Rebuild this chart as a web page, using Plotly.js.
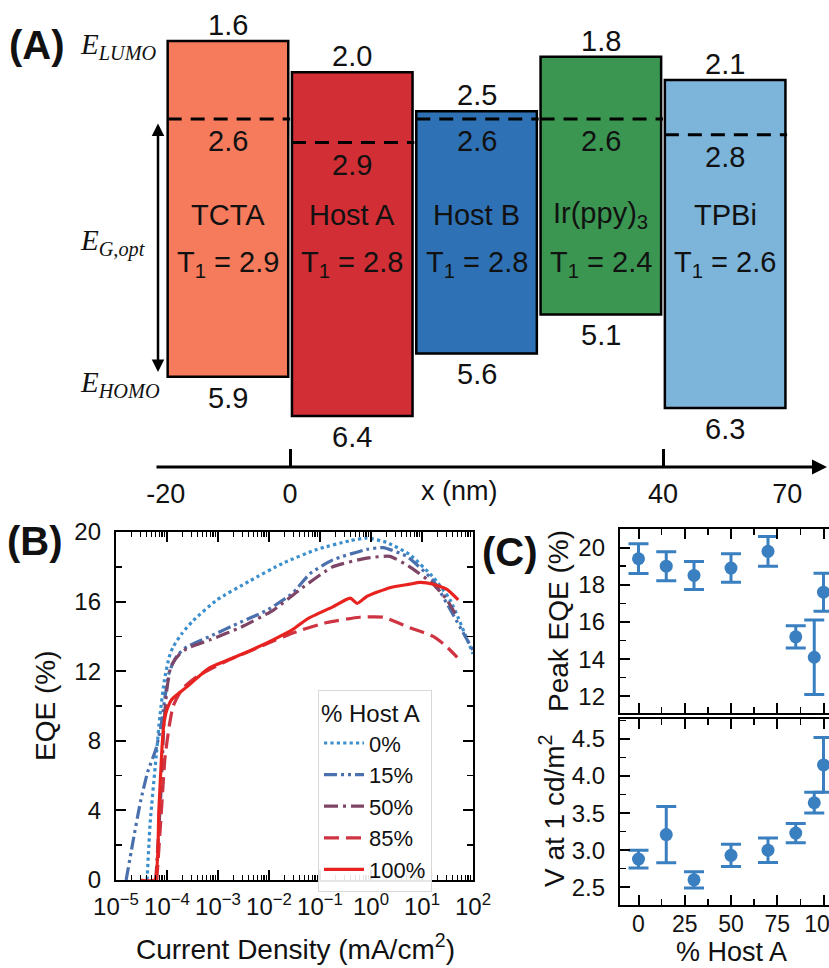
<!DOCTYPE html>
<html>
<head>
<meta charset="utf-8">
<script src="https://cdn.plot.ly/plotly-3.0.1.min.js"></script>
<style>html,body{margin:0;padding:0;overflow:hidden;background:#fff;}#plot{width:900px;height:968px;}</style>
</head>
<body>
<div id="plot"></div>
<script>
// ---------- Panel A: energy levels ----------
const layers = ['TCTA', 'Host A', 'Host B', 'Ir(ppy)<sub>3</sub>', 'TPBi'];
const lumo = [1.6, 2.0, 2.5, 1.8, 2.1];
const homo = [5.9, 6.4, 5.6, 5.1, 6.3];
const tripletLevel = [2.6, 2.9, 2.6, 2.6, 2.8];
const tripletT1 = [2.9, 2.8, 2.8, 2.4, 2.6];
const layerColors = ['#f67b5c', '#d22e35', '#2e72b5', '#3b9651', '#7cb4da'];
const posTickLabels = ['-20', '0', '40', '70'];

// ---------- Panel B: EQE vs current density ----------
const seriesNames = ['0%', '15%', '50%', '85%', '100%'];
const J0 = [4.07e-5, 4.68e-5, 6.31e-5, 7.24e-5, 8.91e-5, 1.10e-4, 1.32e-4, 2.0e-4, 3.24e-4, 9.55e-4, 4.27e-3, 1.86e-2, 8.71e-2, 0.389, 0.832, 2.04, 5.75, 16.6, 35.5, 100];
const EQE0 = [0, 3.3, 7.5, 9.4, 11.5, 12.8, 13.4, 14.2, 14.9, 16.1, 17.2, 18.2, 19.0, 19.5, 19.65, 19.4, 18.7, 17.4, 16.1, 13.0];
const J15 = [1.58e-5, 2.09e-5, 3.02e-5, 4.17e-5, 6.03e-5, 7.59e-5, 9.12e-5, 1.12e-4, 1.585e-4, 2.45e-4, 6.92e-4, 2.69e-3, 9.12e-3, 2.95e-2, 6.31e-2, 0.178, 0.832, 1.74, 5.01, 16.6, 39.8, 100];
const EQE15 = [0, 2.0, 4.5, 6.2, 7.5, 8.8, 10.5, 12.0, 12.9, 13.4, 14.0, 14.8, 15.5, 16.5, 17.6, 18.4, 19.0, 19.1, 18.6, 17.2, 15.3, 13.2];
const J50 = [6.03e-5, 7.59e-5, 8.71e-5, 1.0e-4, 1.20e-4, 1.78e-4, 2.45e-4, 6.92e-4, 2.69e-3, 1.20e-2, 4.07e-2, 0.178, 0.832, 2.34, 5.75, 16.6, 30.9, 49.0];
const EQE50 = [0, 5, 9, 11, 12.3, 13.0, 13.3, 13.8, 14.5, 15.5, 16.7, 18.0, 18.5, 18.6, 18.0, 17.0, 16.1, 15.1];
const J85 = [6.31e-5, 7.59e-5, 9.12e-5, 1.10e-4, 1.32e-4, 2.0e-4, 3.89e-4, 1.51e-3, 6.61e-3, 2.95e-2, 0.138, 0.603, 1.74, 5.75, 16.6, 28.2, 49.0];
const EQE85 = [0, 3.5, 7.0, 8.8, 10.0, 11.0, 11.7, 12.6, 13.4, 14.2, 14.8, 15.1, 15.1, 14.5, 14.0, 13.5, 12.8];
const J100 = [2.95e-5, 5.75e-5, 6.92e-5, 7.94e-5, 8.71e-5, 1.0e-4, 1.26e-4, 2.45e-4, 6.92e-4, 3.09e-3, 1.20e-2, 2.95e-2, 5.62e-2, 0.178, 0.389, 0.537, 0.832, 2.34, 5.75, 9.12, 16.6, 30.9, 51.3];
const EQE100 = [0, 0, 4, 7.5, 9.0, 9.8, 10.4, 11.1, 12.2, 13.0, 13.8, 14.4, 15.0, 15.7, 16.2, 15.9, 16.3, 16.8, 17.0, 17.1, 17.0, 16.7, 16.1];
const seriesColors = ['#3b8fcc', '#4a70ad', '#7e4566', '#cf3443', '#e8231f'];
const currentTickVals = [1e-5, 1e-4, 1e-3, 1e-2, 1e-1, 1e0, 1e1, 1e2];
const currentTickText = ['10<sup>\u22125</sup>', '10<sup>\u22124</sup>', '10<sup>\u22123</sup>', '10<sup>\u22122</sup>', '10<sup>\u22121</sup>', '10<sup>0</sup>', '10<sup>1</sup>', '10<sup>2</sup>'];

// ---------- Panel C: device statistics ----------
const hostA = [0, 15, 30, 50, 70, 85, 95, 100];
const peakEQE = [19.4, 19.0, 18.5, 18.9, 19.8, 15.2, 14.1, 17.6];
const peakEQEErr = [0.8, 0.78, 0.75, 0.77, 0.8, 0.6, 2.0, 1.02];
const voltage = [2.88, 3.21, 2.60, 2.93, 3.00, 3.23, 3.64, 4.15];
const voltageErr = [0.12, 0.38, 0.11, 0.15, 0.165, 0.13, 0.14, 0.37];

const W = 900, H = 968;
const px = v => v / W;
const py = v => 1 - v / H;
const FONT = 'Liberation Sans, Arial, sans-serif';
const SERIF = 'Liberation Serif, Times New Roman, serif';
const TXT = '#111';

const traces = [];

// Panel A bars
traces.push({
  type: 'bar', xaxis: 'x4', yaxis: 'y4',
  x: layers.map((_, i) => i),
  base: lumo,
  y: homo.map((h, i) => h - lumo[i]),
  width: 0.97,
  marker: {color: layerColors, line: {color: '#000', width: 2.5}},
  showlegend: false, hoverinfo: 'skip'
});
// dashed levels
const dx = [], dy = [];
tripletLevel.forEach((v, i) => { dx.push(i - 0.485, i + 0.5, null); dy.push(v, v, null); });
traces.push({
  type: 'scatter', mode: 'lines', xaxis: 'x4', yaxis: 'y4',
  x: dx, y: dy, line: {color: '#000', width: 3, dash: '14px,9px'},
  showlegend: false, hoverinfo: 'skip', connectgaps: false
});

// Panel B curves
const Js = [J0, J15, J50, J85, J100];
const Es = [EQE0, EQE15, EQE50, EQE85, EQE100];
const dashes = ['dot', '13px,4px,3px,4px,3px,4px', '14px,5px,3px,5px', '15px,7px', 'solid'];
seriesNames.forEach((n, i) => {
  traces.push({
    type: 'scatter', mode: 'lines', xaxis: 'x', yaxis: 'y',
    x: Js[i], y: Es[i], name: n,
    line: {color: seriesColors[i], width: 3.2, dash: dashes[i], shape: 'spline', smoothing: 0.5}
  });
});

// Panel C
const cBlue = '#3a7fbf';
traces.push({
  type: 'scatter', mode: 'markers', xaxis: 'x2', yaxis: 'y2',
  x: hostA, y: peakEQE,
  error_y: {type: 'data', array: peakEQEErr, visible: true, color: cBlue, thickness: 3, width: 10},
  marker: {color: cBlue, size: 13}, showlegend: false
});
traces.push({
  type: 'scatter', mode: 'markers', xaxis: 'x3', yaxis: 'y3',
  x: hostA, y: voltage,
  error_y: {type: 'data', array: voltageErr, visible: true, color: cBlue, thickness: 3, width: 10},
  marker: {color: cBlue, size: 13}, showlegend: false
});

// minor ticks for log axis
const logMinor = [];
for (let e = -5; e < 2; e++) for (let d = 2; d <= 9; d++) logMinor.push(d * Math.pow(10, e));

const baseAx = {
  showline: true, linecolor: '#000', linewidth: 2.2, mirror: 'allticks',
  ticks: 'inside', ticklen: 10, tickwidth: 2, tickcolor: '#000',
  showgrid: false, zeroline: false,
  tickfont: {family: FONT, size: 24, color: TXT}
};

const annotations = [];
const ann = (o) => annotations.push(Object.assign({showarrow: false, xanchor: 'center', yanchor: 'middle',
  font: {family: FONT, size: 29, color: TXT}}, o));

// Panel A labels from data
layers.forEach((name, i) => {
  ann({xref: 'x4', yref: 'y4', x: i, y: lumo[i], yshift: 16, text: lumo[i].toFixed(1)});
  ann({xref: 'x4', yref: 'y4', x: i, y: homo[i], yshift: -21, text: homo[i].toFixed(1)});
  ann({xref: 'x4', yref: 'y4', x: i, y: tripletLevel[i], yshift: -22, text: tripletLevel[i].toFixed(1)});
  ann({xref: 'x4', yref: 'paper', x: i, y: py(215), text: name});
  ann({xref: 'x4', yref: 'paper', x: i, y: py(264), text: 'T<sub>1</sub> = ' + tripletT1[i].toFixed(1)});
});
const bold = {family: FONT, size: 40, color: TXT};
ann({xref: 'paper', yref: 'paper', x: px(37), y: py(45), text: '<b>(A)</b>', font: bold});
ann({xref: 'paper', yref: 'paper', x: px(35), y: py(541), text: '<b>(B)</b>', font: bold});
ann({xref: 'paper', yref: 'paper', x: px(510), y: py(552), text: '<b>(C)</b>', font: bold});
const serif = {family: SERIF, size: 29, color: TXT};
ann({xref: 'paper', yref: 'paper', x: px(78), y: py(46), xanchor: 'left', text: '<i>E</i><sub><i>LUMO</i></sub>', font: serif});
ann({xref: 'paper', yref: 'paper', x: px(78), y: py(242), xanchor: 'left', text: '<i>E</i><sub><i>G,opt</i></sub>', font: serif});
ann({xref: 'paper', yref: 'paper', x: px(78), y: py(384), xanchor: 'left', text: '<i>E</i><sub><i>HOMO</i></sub>', font: serif});
ann({xref: 'paper', yref: 'paper', x: px(460), y: py(491), text: 'x (nm)', font: {family: FONT, size: 27, color: TXT}});
// arrows
annotations.push({xref: 'paper', yref: 'paper', x: px(158), y: py(372), ax: 0, ay: -250, axref: 'pixel', ayref: 'pixel',
  showarrow: true, arrowside: 'end+start', arrowhead: 2, arrowsize: 1, arrowwidth: 2.5, arrowcolor: '#000', text: ''});
annotations.push({xref: 'paper', yref: 'paper', x: px(827), y: py(467), ax: -672, ay: 0, axref: 'pixel', ayref: 'pixel',
  showarrow: true, arrowhead: 2, arrowsize: 1, arrowwidth: 3, arrowcolor: '#000', text: ''});

// axis titles
const titleFont = {family: FONT, size: 28, color: TXT};
ann({xref: 'paper', yref: 'paper', x: px(45), y: py(706), textangle: -90, text: 'EQE (%)', font: titleFont});
ann({xref: 'paper', yref: 'paper', x: px(295), y: py(947), text: 'Current Density (mA/cm<sup>2</sup>)', font: titleFont});
ann({xref: 'paper', yref: 'paper', x: px(558), y: py(621), textangle: -90, text: 'Peak EQE (%)', font: titleFont});
ann({xref: 'paper', yref: 'paper', x: px(552), y: py(811), textangle: -90, text: 'V at 1 cd/m<sup>2</sup>', font: titleFont});
ann({xref: 'paper', yref: 'paper', x: px(731), y: py(952), text: '% Host A', font: {family: FONT, size: 27, color: TXT}});

const layout = {
  width: W, height: H, margin: {l: 0, r: 0, t: 0, b: 0},
  paper_bgcolor: '#fff', plot_bgcolor: 'rgba(0,0,0,0)',
  font: {family: FONT, size: 22, color: TXT},
  showlegend: true,
  legend: {
    x: px(318), y: py(690), xanchor: 'left', yanchor: 'top',
    bgcolor: 'rgba(255,255,255,0.9)', bordercolor: '#d8d8d8', borderwidth: 1,
    font: {family: FONT, size: 22, color: TXT},
    title: {text: '% Host A', font: {family: FONT, size: 24, color: TXT}},
    tracegroupgap: 0, itemwidth: 40
  },
  xaxis: Object.assign({}, baseAx, {
    type: 'log', range: [-5, 2], domain: [px(116), px(473)], anchor: 'y',
    tickmode: 'array', tickvals: currentTickVals, ticktext: currentTickText, ticklabelstandoff: 4,
    minor: {tickmode: 'array', tickvals: logMinor, ticks: 'inside', ticklen: 5, tickwidth: 1.2, tickcolor: '#000', showgrid: false}
  }),
  yaxis: Object.assign({}, baseAx, {
    range: [0, 20], domain: [py(880), py(532)], anchor: 'x',
    tickmode: 'linear', tick0: 0, dtick: 4, ticklabelstandoff: 8,
    minor: {dtick: 2, ticks: 'inside', ticklen: 6, tickwidth: 1.5, tickcolor: '#000', showgrid: false}
  }),
  xaxis2: Object.assign({}, baseAx, {
    range: [-10, 110], domain: [px(620), px(842)], anchor: 'y2',
    tickmode: 'linear', tick0: 0, dtick: 25, showticklabels: false,
    minor: {dtick: 12.5, ticks: 'inside', ticklen: 6, tickwidth: 1.5, tickcolor: '#000', showgrid: false}
  }),
  yaxis2: Object.assign({}, baseAx, {
    range: [11.1, 21], domain: [py(713), py(529)], anchor: 'x2',
    tickmode: 'linear', tick0: 12, dtick: 2, ticklabelstandoff: 8,
    minor: {dtick: 1, ticks: 'inside', ticklen: 6, tickwidth: 1.5, tickcolor: '#000', showgrid: false}
  }),
  xaxis3: Object.assign({}, baseAx, {
    range: [-10, 110], domain: [px(620), px(842)], anchor: 'y3',
    tickmode: 'linear', tick0: 0, dtick: 25, ticklabelstandoff: -3,
    tickfont: {family: FONT, size: 23, color: TXT},
    minor: {dtick: 12.5, ticks: 'inside', ticklen: 6, tickwidth: 1.5, tickcolor: '#000', showgrid: false}
  }),
  yaxis3: Object.assign({}, baseAx, {
    range: [2.26, 4.77], domain: [py(905), py(719)], anchor: 'x3',
    tickmode: 'linear', tick0: 2.5, dtick: 0.5, tickformat: '.1f', ticklabelstandoff: 8,
    minor: {dtick: 0.25, ticks: 'inside', ticklen: 6, tickwidth: 1.5, tickcolor: '#000', showgrid: false}
  }),
  xaxis4: {
    range: [-0.5, 4.5], domain: [px(165.8), px(787.3)], anchor: 'y4',
    showline: false, showgrid: false, zeroline: false,
    ticks: 'inside', ticklen: 18, tickwidth: 3, tickcolor: '#000',
    tickmode: 'array', tickvals: [-0.5, 0.5, 3.5, 4.5], ticktext: posTickLabels, ticklabelstandoff: 8,
    tickfont: {family: FONT, size: 27, color: TXT}
  },
  yaxis4: {
    range: [7.054, 1.459], domain: [py(467), py(30)], anchor: 'x4', visible: false
  },
  bargap: 0,
  annotations: annotations
};

Plotly.newPlot('plot', traces, layout, {displayModeBar: false, staticPlot: true});
</script>
</body>
</html>
